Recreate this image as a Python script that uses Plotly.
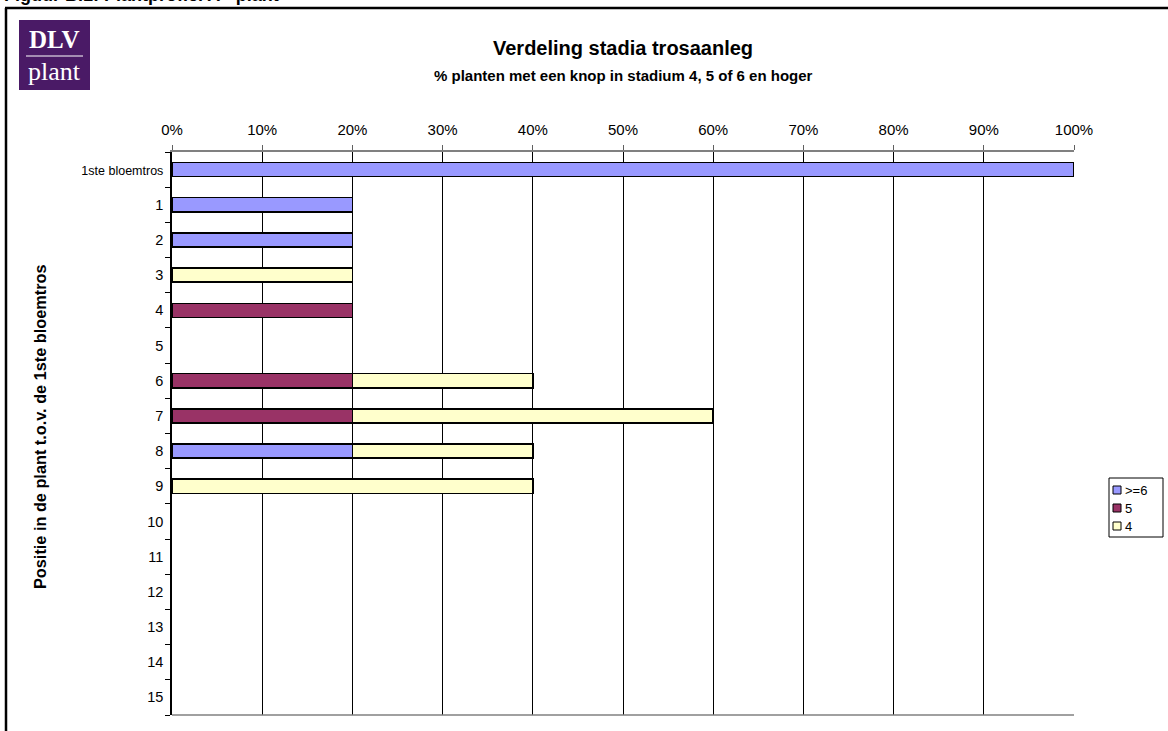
import plotly.graph_objects as go

categories = ["1ste bloemtros", "1", "2", "3", "4", "5", "6", "7", "8", "9",
              "10", "11", "12", "13", "14", "15"]
series_names = [">=6", "5", "4"]
vals_ge6 = [100, 20, 20, None, None, None, None, None, 20, None, None, None, None, None, None, None]
vals_5 = [None, None, None, None, 20, None, 20, 20, None, None, None, None, None, None, None, None]
vals_4 = [None, None, None, 20, None, None, 20, 40, 20, 40, None, None, None, None, None, None]
colors = ["#9999FF", "#993366", "#FFFFCC"]
x_ticks = list(range(0, 101, 10))

W, H = 1168, 731
L, R, T, B = 172, 1074, 152, 715


def px(x):
    return (x - L) / (R - L)


def py(y):
    return (B - y) / (B - T)


fig = go.Figure()
for name, vals, col in zip(series_names, [vals_ge6, vals_5, vals_4], colors):
    fig.add_trace(go.Bar(
        y=categories, x=vals, name=name, orientation="h",
        marker=dict(color=col, line=dict(color="black", width=1.5)),
        showlegend=False,
    ))

font = "Liberation Sans, Arial, sans-serif"
serif = "Liberation Serif, DejaVu Serif, serif"

ylabels = ["<span style='font-size:12.5px'>" + categories[0] + "</span>"] + categories[1:]

fig.update_layout(
    width=W, height=H,
    margin=dict(l=L, r=W - R, t=T, b=H - B, autoexpand=False),
    paper_bgcolor="white", plot_bgcolor="white",
    barmode="stack", bargap=0.6,
    font=dict(family=font, size=12, color="black"),
    showlegend=False,
    xaxis=dict(side="top", range=[0, 100], tickvals=x_ticks,
               ticktext=[f"{v}%" for v in x_ticks],
               tickfont=dict(size=15),
               showgrid=True, gridcolor="black", gridwidth=1,
               ticks="outside", ticklen=5, tickcolor="#606060",
               ticklabelstandoff=4,
               showline=True, linecolor="#808080", linewidth=1.5,
               zeroline=False, fixedrange=True),
    yaxis=dict(categoryorder="array", categoryarray=categories,
               tickvals=categories, ticktext=ylabels,
               autorange="reversed", tickson="boundaries",
               tickfont=dict(size=14.5),
               ticks="outside", ticklen=5, tickcolor="black",
               ticklabelstandoff=4,
               showline=True, linecolor="black", linewidth=1.5,
               showgrid=False, zeroline=False, fixedrange=True),
)

shapes = [
    # bottom axis line
    dict(type="line", xref="paper", yref="paper", x0=0, x1=1, y0=0, y1=0,
         line=dict(color="#808080", width=1.5)),
    # outer frame
    dict(type="line", xref="paper", yref="paper", x0=px(6), x1=px(6), y0=py(8), y1=py(740),
         line=dict(color="black", width=2.5)),
    dict(type="line", xref="paper", yref="paper", x0=px(5), x1=px(1175), y0=py(8), y1=py(8),
         line=dict(color="black", width=2.5)),
    # logo
    dict(type="rect", xref="paper", yref="paper", x0=px(19), x1=px(90), y0=py(90), y1=py(20),
         fillcolor="#4A1A66", line=dict(width=0)),
    dict(type="line", xref="paper", yref="paper", x0=px(26), x1=px(83), y0=py(56), y1=py(56),
         line=dict(color="white", width=1)),
    # legend box
    dict(type="rect", xref="paper", yref="paper", x0=px(1109), x1=px(1163), y0=py(537), y1=py(478),
         fillcolor="white", line=dict(color="black", width=1)),
]

ann = [
    dict(text="<b>Figuur B.1: Plantprofiel A - plant</b>", x=px(2), y=py(7),
         xanchor="left", yanchor="bottom", font=dict(size=18, family=font)),
    dict(text="<b>Verdeling stadia trosaanleg</b>", x=px(623), y=py(48),
         xanchor="center", yanchor="middle", font=dict(size=20, family=font)),
    dict(text="<b>% planten met een knop in stadium 4, 5 of 6 en hoger</b>", x=px(623), y=py(75),
         xanchor="center", yanchor="middle", font=dict(size=15, family=font)),
    dict(text="<b>Positie in de plant t.o.v. de 1ste bloemtros</b>", x=px(40), y=py(427),
         xanchor="center", yanchor="middle", textangle=-90, font=dict(size=16.3, family=font)),
    dict(text="<b>DLV</b>", x=px(54.5), y=py(40), xanchor="center", yanchor="middle",
         font=dict(size=25, family=serif, color="white")),
    dict(text="plant", x=px(54.5), y=py(71), xanchor="center", yanchor="middle",
         font=dict(size=26, family=serif, color="white")),
]

# manual legend
for i, (name, col) in enumerate(zip(series_names, colors)):
    yc = 490 + 18 * i
    shapes.append(dict(type="rect", xref="paper", yref="paper",
                       x0=px(1113), x1=px(1121), y0=py(yc + 4), y1=py(yc - 4),
                       fillcolor=col, line=dict(color="black", width=1)))
    ann.append(dict(text=name, x=px(1123), y=py(yc), xanchor="left", yanchor="middle",
                    font=dict(size=13, family=font)))

for a in ann:
    a.update(xref="paper", yref="paper", showarrow=False)
fig.update_layout(shapes=shapes, annotations=ann)

fig.write_html("out.html")
